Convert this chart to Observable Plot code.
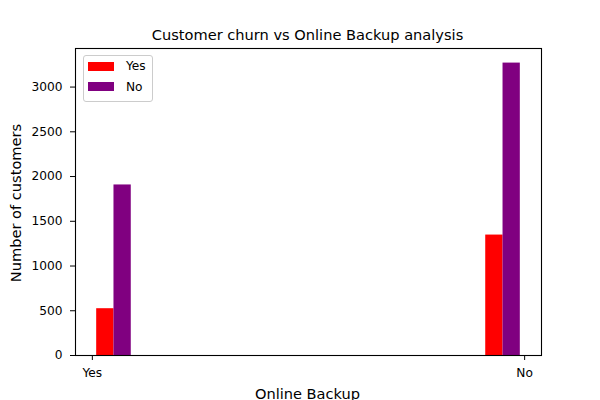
<!DOCTYPE html>
<html>
<head>
<meta charset="utf-8">
<script src="https://cdn.jsdelivr.net/npm/d3@7"></script>
<script src="https://cdn.jsdelivr.net/npm/@observablehq/plot@0.6"></script>
<style>
  body { margin: 0; background: #fff; }
  #wrap { position: relative; width: 600px; height: 400px; font-family: "DejaVu Sans", sans-serif; color: #000; overflow: hidden; }
  .lbl { position: absolute; white-space: nowrap; font-size: 14.6px; line-height: 1; }
  #title { left: 307.5px; top: 28px; transform: translateX(-50%); }
  #xlabel { left: 307.5px; top: 386.5px; transform: translateX(-50%); }
  #ylabel { left: 16px; top: 202.5px; transform: translate(-50%, -50%) rotate(-90deg); }
  #legendbox { position: absolute; left: 82.5px; top: 55px; width: 68px; height: 44.5px; border: 1px solid #ccc; border-radius: 3px; background: rgba(255,255,255,0.8); }
  .sw { position: absolute; left: 87.5px; width: 26.5px; height: 9.5px; }
  .it { position: absolute; left: 126px; font-size: 12.2px; line-height: 1; white-space: nowrap; }
</style>
</head>
<body>
<div id="wrap"></div>
<script>
const categories = ["Yes", "No"];
const seriesNames = ["Yes", "No"];
const seriesColors = ["red", "purple"];
const churnYes = [523, 1346];
const churnNo = [1906, 3268];
const yTicks = [0, 500, 1000, 1500, 2000, 2500, 3000];

const binWidth = 0.1, rwidth = 0.8;
const barW = binWidth * rwidth / seriesNames.length;
const seriesValues = [churnYes, churnNo];
const rows = [];
categories.forEach((c, i) => {
  seriesValues.forEach((vals, s) => {
    const base = i === 0 ? 0 : 1 - binWidth;
    const x1 = base + binWidth * (1 - rwidth) / 2 + s * barW;
    rows.push({cat: c, series: seriesNames[s], x1, x2: x1 + barW, value: vals[i], color: seriesColors[s]});
  });
});

const chart = Plot.plot({
  width: 600,
  height: 400,
  marginLeft: 75,
  marginRight: 59,
  marginTop: 48,
  marginBottom: 45,
  style: {fontFamily: "DejaVu Sans, sans-serif", fontSize: "12.2px", color: "#000", background: "#fff"},
  x: {domain: [-0.039, 1.039]},
  y: {domain: [0, 3431]},
  marks: [
    Plot.rectY(rows, {x1: "x1", x2: "x2", y1: 0, y2: "value", fill: "color"}),
    Plot.axisY({ticks: yTicks, tickSize: 5, tickPadding: 8, label: null, tickFormat: d => String(d)}),
    Plot.axisX({ticks: [0, 1], tickSize: 5, tickPadding: 8, label: null, tickFormat: d => categories[d]}),
    Plot.frame({stroke: "black", strokeWidth: 1.1})
  ]
});

const wrap = document.getElementById("wrap");
wrap.appendChild(chart);

function addLabel(id, text) {
  const d = document.createElement("div");
  d.id = id; d.className = "lbl"; d.textContent = text;
  wrap.appendChild(d);
}
addLabel("title", "Customer churn vs Online Backup analysis");
addLabel("xlabel", "Online Backup");
addLabel("ylabel", "Number of customers");

const box = document.createElement("div");
box.id = "legendbox";
wrap.appendChild(box);
const swTops = [61.5, 81.8];
const textTops = [60, 80.5];
seriesNames.forEach((n, s) => {
  const sw = document.createElement("div");
  sw.className = "sw"; sw.style.background = seriesColors[s]; sw.style.top = swTops[s] + "px";
  const t = document.createElement("div");
  t.className = "it"; t.textContent = n; t.style.top = textTops[s] + "px";
  wrap.appendChild(sw); wrap.appendChild(t);
});
</script>
</body>
</html>
